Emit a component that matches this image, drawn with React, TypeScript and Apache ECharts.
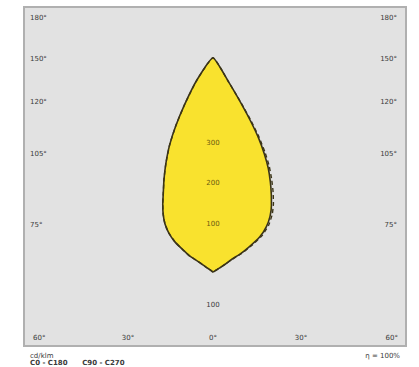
import React, { useEffect, useRef } from "react";
import * as echarts from "echarts";

// gamma angles (0° = straight down, 180° = straight up)
const gammaAngles = [0, 30, 60, 75, 90, 100, 105, 110, 115, 120, 125, 130, 135, 140, 145, 150, 155, 160, 165, 170, 175, 180];
// luminous intensity, cd/klm
const c180Values = [20, 16, 18, 21, 28, 38, 48, 64, 81, 108, 133, 155, 174, 193, 214, 242, 275, 313, 354, 401, 456, 509];
const c0Values = [20, 17, 19, 23, 31, 41, 50, 71, 97, 133, 161, 184, 204, 224, 247, 273, 300, 330, 363, 402, 450, 509];
const c270Values = [20, 16, 18, 21, 28, 38, 48, 64, 81, 108, 133, 155, 174, 193, 214, 242, 275, 313, 354, 401, 456, 509];
const c90Values = [20, 17, 19, 23, 31, 42, 52, 74, 102, 140, 168, 191, 211, 231, 253, 278, 304, 333, 365, 403, 450, 509];

const ringLabelsUp = [100, 200, 300];
const ringLabelsDown = [100];
const sideLabels = ["180°", "150°", "120°", "105°", "75°"];
const bottomLabels = ["60°", "30°", "0°", "30°", "60°"];
const unitLabel = "cd/klm";
const effLabel = "η = 100%";
const planeLabel = "C0 - C180      C90 - C270";

// layout
const CX = 213;
const CY = 264;
const R_MAX = 600;
const R_PX = 243;
const SCALE = R_PX / R_MAX;
const BOX = { x: 24, y: 7, w: 382, h: 339 };
const sideY = [18, 59, 102, 154, 225];
const bottomX = [33, 128, 213, 301, 398];
const FONT = "DejaVu Sans";

function closedCurve(left: number[], right: number[]) {
  const pts: number[][] = [];
  gammaAngles.forEach((g, i) => pts.push([left[i], g]));
  for (let i = gammaAngles.length - 2; i >= 0; i--) {
    pts.push([right[i], 360 - gammaAngles[i]]);
  }
  return pts;
}

export default function App() {
  const ref = useRef<HTMLDivElement>(null);
  useEffect(() => {
    if (!ref.current) return;
    const chart = echarts.init(ref.current, null, { renderer: "svg" });
    const txt = (text: string, x: number, y: number, align: string, extra: any = {}) => ({
      type: "text",
      x,
      y,
      z: 20,
      style: {
        text,
        fill: "#3a3a3a",
        font: `7px ${FONT}`,
        align,
        verticalAlign: "middle",
        ...extra,
      },
    });
    const graphics: any[] = [
      {
        type: "rect",
        z: -10,
        shape: { x: BOX.x, y: BOX.y, width: BOX.w, height: BOX.h },
        style: { fill: "#e2e2e2", stroke: "#b0b0b0", lineWidth: 2 },
      },
    ];
    sideLabels.forEach((l, i) => {
      graphics.push(txt(l, 30, sideY[i], "left"));
      graphics.push(txt(l, 397, sideY[i], "right"));
    });
    bottomLabels.forEach((l, i) => {
      const align = i === 0 ? "left" : i === bottomLabels.length - 1 ? "right" : "center";
      graphics.push(txt(l, bottomX[i], 338, align));
    });
    ringLabelsUp.forEach((v) => graphics.push(txt(String(v), CX, CY - v * SCALE, "center", { fill: "#6b5a10" })));
    ringLabelsDown.forEach((v) => graphics.push(txt(String(v), CX, CY + v * SCALE, "center")));
    graphics.push(txt(unitLabel, 30, 356, "left"));
    graphics.push(txt(effLabel, 400, 356, "right"));
    graphics.push(txt(planeLabel, 30, 362.5, "left", { font: `bold 7px ${FONT}` }));

    chart.setOption({
      animation: false,
      polar: { center: [CX, CY], radius: R_PX },
      angleAxis: {
        type: "value",
        min: 0,
        max: 360,
        startAngle: 270,
        clockwise: true,
        show: false,
      },
      radiusAxis: { type: "value", min: 0, max: R_MAX, show: false },
      graphic: graphics,
      series: [
        {
          type: "line",
          coordinateSystem: "polar",
          data: closedCurve(c180Values, c0Values),
          symbol: "none",
          smooth: 0.15,
          z: 3,
          lineStyle: { color: "#3b3418", width: 1.6 },
          areaStyle: { color: "#f9e22e", opacity: 1 },
        },
        {
          type: "line",
          coordinateSystem: "polar",
          data: closedCurve(c270Values, c90Values),
          symbol: "none",
          smooth: 0.15,
          z: 4,
          lineStyle: { color: "#3b3418", width: 1.4, type: [4, 3] },
        },
      ],
    });
    return () => chart.dispose();
  }, []);
  return (
    <div
      ref={ref}
      style={{ position: "fixed", left: 0, top: 0, width: 419, height: 367, background: "#ffffff" }}
    />
  );
}
